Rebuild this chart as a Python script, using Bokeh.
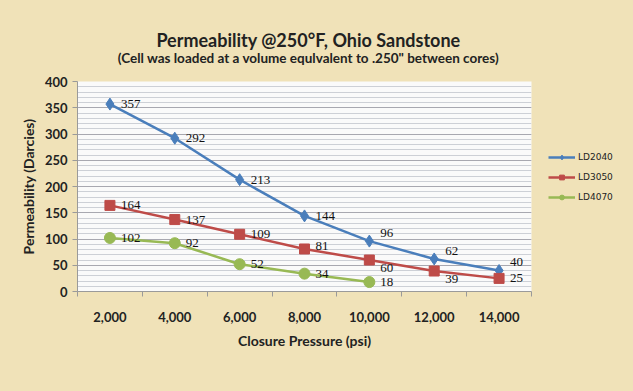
from bokeh.plotting import figure
from bokeh.layouts import column, row
from bokeh.models import (ColumnDataSource, LabelSet, Label, FixedTicker, SingleIntervalTicker,
                          Legend, LegendItem)
from bokeh.embed import file_html
from bokeh.resources import INLINE

# ---- data ----
pressure = [2000, 4000, 6000, 8000, 10000, 12000, 14000]
ld2040 = [357, 292, 213, 144, 96, 62, 40]
ld3050 = [164, 137, 109, 81, 60, 39, 25]
ld4070_pressure = [2000, 4000, 6000, 8000, 10000]
ld4070 = [102, 92, 52, 34, 18]
x_tick_labels = ["2,000", "4,000", "6,000", "8,000", "10,000", "12,000", "14,000"]
series_names = ["LD2040", "LD3050", "LD4070"]
title_text = "Permeability @250°F, Ohio Sandstone"
subtitle_text = '(Cell was loaded at a volume equlvalent to .250" between cores)'

# label offsets (style only)
off2040 = [0, 0, 0, 0, 8, 8, 9]
off3050 = [0, 0, 0, 3, -8, -8, 0]
off4070 = [0, 0, 0, 0, 0]

BG = "#F0E2B8"
FONT = "Lato"
colors = ["#4A7EBB", "#BE4B48", "#98B954"]
markers = ["diamond", "square", "circle"]
bg_style = {"background-color": BG}

# ---------- title strip ----------
pt = figure(width=633, height=68, output_backend="svg", toolbar_location=None,
            x_range=(0, 1), y_range=(0, 1), x_axis_type=None, y_axis_type=None,
            min_border=0, styles=bg_style)
pt.outline_line_color = None
pt.background_fill_color = BG
pt.border_fill_color = BG
pt.xgrid.visible = False
pt.ygrid.visible = False
pt.add_layout(Label(x=308, y=29, x_units="screen", y_units="screen", text=title_text,
                    text_font=FONT, text_font_style="bold", text_font_size="18px",
                    text_align="center", text_baseline="middle", text_color="#222222"))
pt.add_layout(Label(x=308, y=11, x_units="screen", y_units="screen", text=subtitle_text,
                    text_font=FONT, text_font_style="bold", text_font_size="13.5px",
                    text_align="center", text_baseline="middle", text_color="#222222"))

# ---------- main chart ----------
p = figure(width=540, height=323, output_backend="svg", toolbar_location=None,
           x_range=(1000, 15000), y_range=(0, 400),
           min_border_left=77, min_border_right=9, min_border_top=13, min_border_bottom=100,
           styles=bg_style)
p.background_fill_color = "#FAFAFA"
p.border_fill_color = BG
p.outline_line_color = None

p.xaxis.ticker = FixedTicker(ticks=pressure, minor_ticks=[1000, 3000, 5000, 7000, 9000, 11000, 13000, 15000])
p.xaxis.major_label_overrides = {v: l for v, l in zip(pressure, x_tick_labels)}
p.xaxis.major_tick_line_color = None
p.xaxis.minor_tick_line_color = "#9A9A9A"
p.xaxis.minor_tick_out = 5
p.xaxis.minor_tick_in = 0
p.xaxis.major_label_standoff = 14
p.xaxis.axis_label = "Closure Pressure (psi)"
p.xaxis.axis_label_standoff = 7

p.yaxis.ticker = SingleIntervalTicker(interval=50, num_minor_ticks=5)
p.yaxis.minor_tick_line_color = None
p.yaxis.major_tick_out = 5
p.yaxis.major_tick_in = 0
p.yaxis.major_tick_line_color = "#9A9A9A"
p.yaxis.major_label_standoff = 5
p.yaxis.axis_label = "Permeability (Darcies)"
p.yaxis.axis_label_standoff = 5

for ax in (p.xaxis, p.yaxis):
    ax.axis_line_color = "#9A9A9A"
    ax.major_label_text_font = FONT
    ax.major_label_text_font_style = "bold"
    ax.major_label_text_font_size = "13px"
    ax.major_label_text_color = "#222222"
    ax.axis_label_text_font = FONT
    ax.axis_label_text_font_style = "bold"
    ax.axis_label_text_font_size = "14px"
    ax.axis_label_text_color = "#222222"

p.xgrid.grid_line_color = None
p.ygrid.ticker = SingleIntervalTicker(interval=50, num_minor_ticks=5)
p.ygrid.grid_line_color = "#A8A8B0"
p.ygrid.minor_grid_line_color = "#CDD0D6"

s1 = ColumnDataSource(dict(x=pressure, y=ld2040, t=[str(v) for v in ld2040], o=off2040))
s2 = ColumnDataSource(dict(x=pressure, y=ld3050, t=[str(v) for v in ld3050], o=off3050))
s3 = ColumnDataSource(dict(x=ld4070_pressure, y=ld4070, t=[str(v) for v in ld4070], o=off4070))
sources = (s1, s2, s3)

sizes = [12, 10, 11]
for src, c, mk, sz in zip(sources, colors, markers, sizes):
    p.line("x", "y", source=src, line_color=c, line_width=2.5)
    p.scatter("x", "y", source=src, marker=mk, size=sz, fill_color=c, line_color=c)
    p.add_layout(LabelSet(x="x", y="y", text="t", source=src, x_offset=11, y_offset="o",
                          text_font="Liberation Serif", text_font_size="13px",
                          text_color="#111111", text_baseline="middle", text_align="left"))

# ---------- legend strip (series drawn out of view; only the legend shows) ----------
pl = figure(width=93, height=323, output_backend="svg", toolbar_location=None,
            x_range=(0, 1), y_range=(0, 1), x_axis_type=None, y_axis_type=None,
            min_border=0, styles=bg_style)
pl.outline_line_color = None
pl.background_fill_color = BG
pl.border_fill_color = BG
pl.xgrid.visible = False
pl.ygrid.visible = False
items = []
leg_sizes = [8, 7, 7]
for name, src, c, mk, sz in zip(series_names, sources, colors, markers, leg_sizes):
    lr = pl.line("x", "y", source=src, line_color=c, line_width=2.5)
    mr = pl.scatter("x", "y", source=src, marker=mk, size=sz, fill_color=c, line_color=c)
    items.append(LegendItem(label=name, renderers=[lr, mr]))
legend = Legend(items=items, location=(8, 88), background_fill_alpha=0,
                border_line_color=None, label_text_font="DejaVu Sans",
                label_text_font_size="9px", label_text_color="#222222",
                glyph_width=27, glyph_height=12, spacing=8, padding=0, margin=0,
                label_standoff=3)
pl.add_layout(legend)

layout = column(pt, row(p, pl, spacing=0, styles=bg_style), spacing=0, styles=bg_style)
html = file_html(layout, INLINE)
html = html.replace("<body>", '<body style="background:%s">' % BG, 1)
open("out.html", "w").write(html)
